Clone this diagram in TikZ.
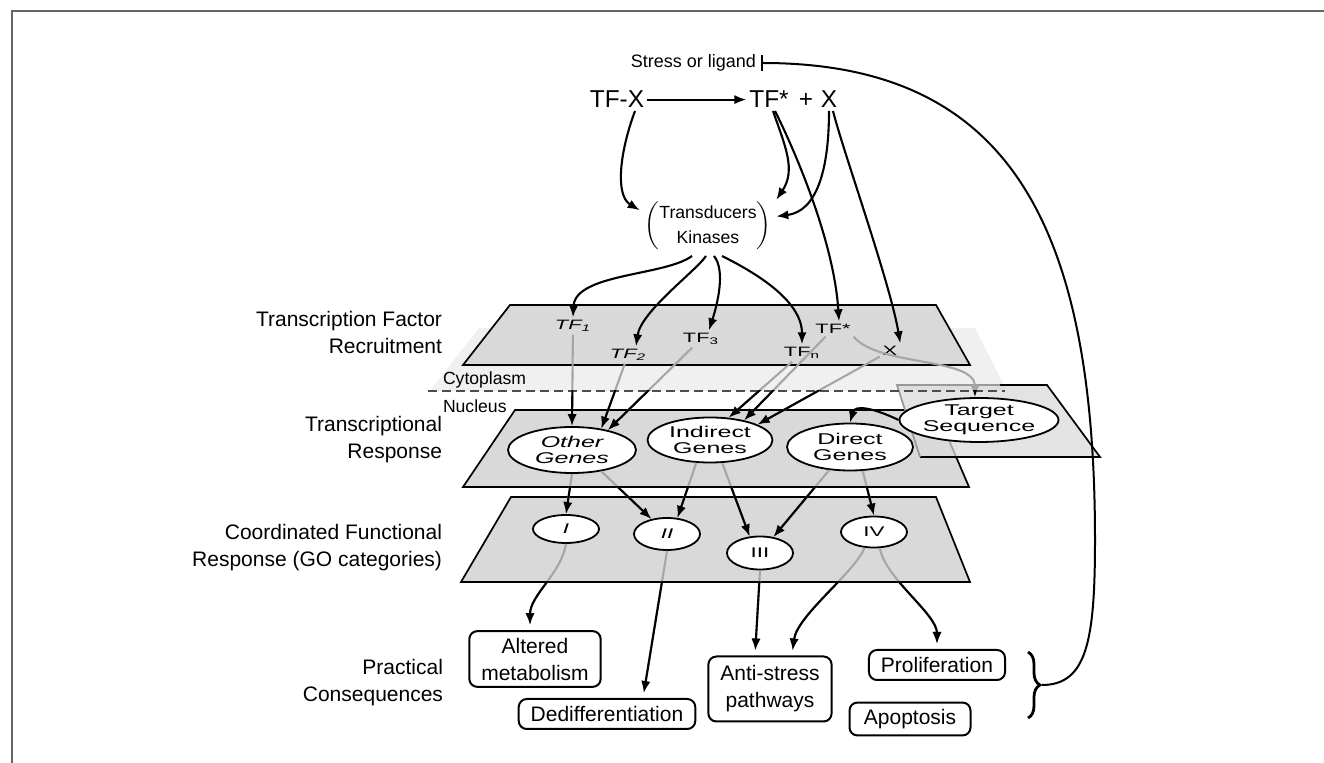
\documentclass[tikz,border=0pt]{standalone}
\usepackage{fontspec}
\setmainfont{Liberation Sans}
\newfontfamily\widefont[FakeStretch=1.6]{Liberation Sans}
\usetikzlibrary{arrows.meta,positioning,shapes.geometric,decorations.pathreplacing}

\begin{document}
\begin{tikzpicture}[x=0.5pt, y=-0.5pt, >={Latex[length=6pt,width=4.6pt]}, line width=1pt]
\tikzset{
  plane/.style  = {draw, fill=black!15, line width=0.85pt},
  layer/.style  = {anchor=east, align=right, inner sep=0pt, font=\fontsize{10.5}{13.5}\selectfont},
  big/.style    = {anchor=base, inner sep=1pt, font=\fontsize{12.2}{14}\selectfont},
  tflab/.style  = {inner sep=1pt, font=\widefont\fontsize{6.8}{8}\selectfont},
  gene/.style   = {ellipse, draw, fill=white, line width=0.9pt, inner sep=0pt, align=center, font=\widefont\fontsize{7.8}{8}\selectfont},
  cat/.style    = {ellipse, draw, fill=white, line width=0.9pt, inner sep=0pt, minimum width=33pt, minimum height=15.5pt, font=\widefont\fontsize{7}{8}\selectfont},
  result/.style = {rectangle, rounded corners=4pt, draw, line width=1pt, align=center, inner xsep=6pt, minimum height=15pt, font=\fontsize{10.5}{13.5}\selectfont},
  link/.style   = {->, line width=1.05pt},
  faint/.style  = {link, draw=black!35}
}
\useasboundingbox (0,0) rectangle (1324,763);
\draw[black!60, line width=1pt] (12,763) -- (12,11) -- (1324,11);

% Planes
\fill[black!6] (479,328) -- (975,328) -- (1007,391) -- (430,391) -- cycle;
\draw[plane] (510,305) -- (936,305) -- (970,365) -- (463,365) -- cycle;
\draw[plane] (515,410) -- (936,410) -- (969,487) -- (463,487) -- cycle;
\fill[black!15, fill opacity=0.75] (897,385) -- (1047,385) -- (1100,457) -- (920,457) -- cycle;
\draw[line width=0.85pt] (1000,385) -- (1047,385) -- (1100,457) -- (920,457);
\draw[black!40, line width=0.85pt] (920,457) -- (897,385) -- (1000,385);
\draw[plane] (511,497) -- (936,497) -- (970,582) -- (461,582) -- cycle;
\draw[black!70, line width=0.9pt, dash pattern=on 4.5pt off 2.5pt] (428,391) -- (1005,391);

% Level names
\node[layer] (lrecruit) at (443,333) {Transcription Factor\\Recruitment};
\node[layer] (lresponse) at (443,440) {Transcriptional\\Response};
\node[layer] (lgo) at (443,548) {Coordinated Functional\\Response (GO categories)};
\node[layer] (lpract) at (444,683) {Practical\\Consequences};
\node[anchor=west, inner sep=0pt, font=\fontsize{8.8}{10}\selectfont] (cyto) at (442,380) {Cytoplasm};
\node[below=5pt of cyto.south west, anchor=north west, inner sep=0pt, font=\fontsize{8.8}{10}\selectfont] (nucl) {Nucleus};

% Top reaction
\node[anchor=east, inner sep=2pt, font=\fontsize{9}{10}\selectfont] (stress) at (761,63) {Stress or ligand};
\node[big] (tfx) at (617,108) {TF-X};
\node[big] (tfs) at (769,108) {TF*};
\node[big] (plus) at (806,108) {+};
\node[big] (xtop) at (829,108) {X};
\node[inner sep=2pt, font=\fontsize{8.8}{12.5}\selectfont] (kin) at (708,226)
  {$\left(\begin{tabular}{@{}c@{}}Transducers\\Kinases\end{tabular}\right)$};

% Factors on the first plane
\node[tflab] (tf1) at (573,326) {\itshape TF\textsubscript{1}};
\node[tflab] (tf2) at (628,355) {\itshape TF\textsubscript{2}};
\node[tflab] (tf3) at (701,339) {TF\textsubscript{3}};
\node[tflab] (tfn) at (802,353) {TF\textsubscript{n}};
\node[tflab] (tfstar) at (833,329) {TF*};
\node[tflab] (xpl) at (890,351) {X};

% Genes
\node[gene, minimum width=64pt, minimum height=23pt] (other) at (572,450) {\itshape Other\\\itshape Genes};
\node[gene, minimum width=62.5pt, minimum height=22.5pt] (indirect) at (710,440) {Indirect\\Genes};
\node[gene, minimum width=63pt, minimum height=23.5pt] (direct) at (850,447) {Direct\\Genes};
\node[gene, minimum width=64pt, minimum height=22pt] (target) at (979,420) {Target\\Sequence};

% GO categories
\node[cat, minimum height=14pt] (gI) at (566,529) {\itshape I};
\node[cat, minimum height=16pt] (gII) at (667,534) {\itshape II};
\node[cat, minimum height=16.5pt] (gIII) at (760,553) {III};
\node[cat] (gIV) at (874,532) {IV};

% Consequences
\node[result] (altered) at (535,659) {Altered\\metabolism};
\node[result] (dediff) at (607,714) {Dedifferentiation};
\node[result, minimum height=32.5pt] (anti) at (770,689) {Anti-stress\\pathways};
\node[result] (prolif) at (937,665) {Proliferation};
\node[result, minimum width=60.5pt] (apopt) at (910,719) {Apoptosis};

% Reaction and transducers
\draw[->] (tfx.east) -- (tfs.west);
\draw[link] ([xshift=9pt]tfx.south) .. controls +(-15,40) and +(-25,-15) .. (kin.167);
\draw[link] ([xshift=2pt]tfs.south) .. controls +(12,35) and +(20,-30) .. (kin.21);
\draw[link] (xtop.south) .. controls +(0,60) and +(40,-5) .. (kin.8);
\draw[link] ([xshift=3pt]tfs.south) .. controls +(20,40) and +(-5,-80) .. ([xshift=3pt]tfstar.north);
\draw[link] ([xshift=2pt]xtop.south) .. controls +(10,40) and +(-10,-60) .. (xpl.north east);
\draw[link] ([xshift=-8pt]kin.south) .. controls +(-27,20) and +(2,-44) .. (tf1.north);
\draw[link] ([xshift=-1pt]kin.south) .. controls +(-10,15) and +(5,-35) .. ([xshift=4pt]tf2.north);
\draw[link] ([xshift=3pt]kin.south) .. controls +(12,15) and +(8,-25) .. ([xshift=4pt]tf3.north);
\draw[link] ([xshift=7pt]kin.south) .. controls +(30,15) and +(0,-45) .. (tfn.north);

% Factors into the nucleus: faint above the dashed line
\foreach \s/\t in {tf1/other.north, tf2/other.36, tf3/other.29, tfn/indirect.50, tfstar/indirect.30, xpl/indirect.18}{
  \draw[faint] (\s) -- (\t);
  \begin{scope}
    \clip (0,391) rectangle (1324,763);
    \draw[link] (\s) -- (\t);
  \end{scope}
}
\draw[faint] (tfstar.south east) .. controls +(25,30) and +(0,-40) .. (target.100);
\begin{scope}
  \clip (0,391) rectangle (1324,763);
  \draw[link] (tfstar.south east) .. controls +(25,30) and +(0,-40) .. (target.100);
\end{scope}
\draw[link] (target.west) .. controls +(-25,-12) and +(5,-18) .. (direct.north);

% Genes to GO categories
\foreach \s/\t in {other.south/gI.north, other.-36/gII.136, indirect.-121/gII.57, indirect.-62/gIII.122, direct.-132/gIII.50, direct.-62/gIV.north}{
  \draw[faint] (\s) -- (\t);
  \begin{scope}
    \clip (0,487) rectangle (1324,763);
    \draw[link] (\s) -- (\t);
  \end{scope}
}

% GO categories to consequences
\begin{scope}[shorten >=2.5pt]
  \draw[faint] (gI.south) .. controls +(-5,30) and +(0,-35) .. ([xshift=-2.5pt]altered.north);
  \draw[faint] (gII.south) -- ([xshift=18pt]dediff.north);
  \draw[faint] (gIII.south) -- ([xshift=-7.5pt]anti.north);
  \draw[faint] (gIV.-121) .. controls +(-10,25) and +(5,-40) .. ([xshift=11pt]anti.north);
  \draw[faint] (gIV.-70) .. controls +(5,30) and +(0,-35) .. (prolif.north);
  \clip (0,582) rectangle (1324,763);
  \draw[link] (gI.south) .. controls +(-5,30) and +(0,-35) .. ([xshift=-2.5pt]altered.north);
  \draw[link] (gII.south) -- ([xshift=18pt]dediff.north);
  \draw[link] (gIII.south) -- ([xshift=-7.5pt]anti.north);
  \draw[link] (gIV.-121) .. controls +(-10,25) and +(5,-40) .. ([xshift=11pt]anti.north);
  \draw[link] (gIV.-70) .. controls +(5,30) and +(0,-35) .. (prolif.north);
\end{scope}

% Feedback
\coordinate (bracetip) at (1042,685);
\draw[decorate, decoration={brace, amplitude=6pt}, line width=1.4pt] (1028,652) -- (1028,718);
\draw[-{Bar[width=8pt]}] (bracetip) .. controls +(45,0) and +(0,100) .. (1095,540)
  .. controls +(0,-320) and +(245,0) .. (stress.east);

\end{tikzpicture}
\end{document}
